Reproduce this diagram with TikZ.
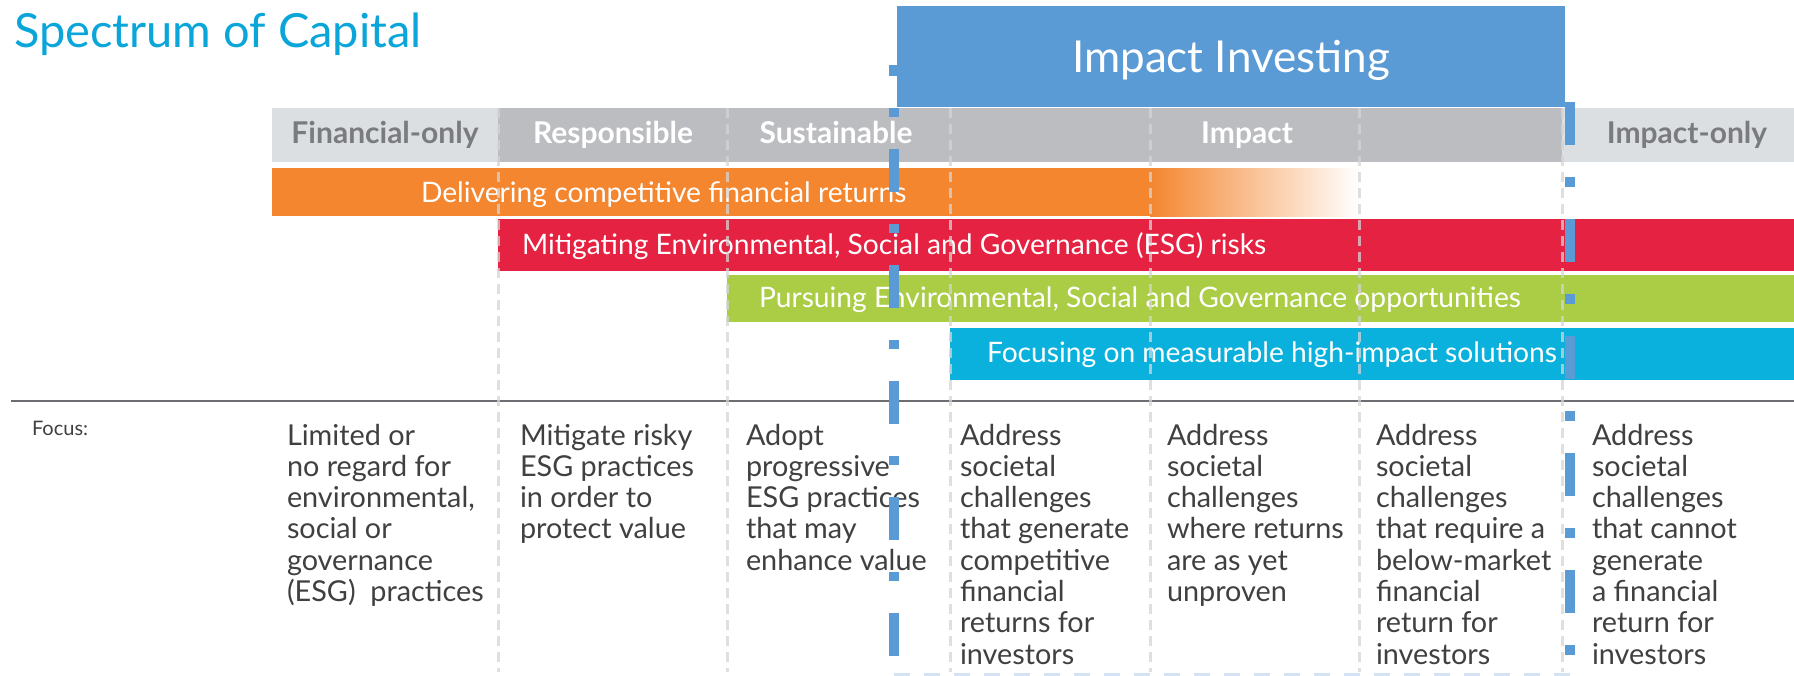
\documentclass[tikz,border=0pt]{standalone}
\usepackage{fontspec}
\setmainfont{Lato}
\definecolor{titlecyan}{HTML}{0AA5D9}
\definecolor{boxblue}{HTML}{5B9BD5}
\definecolor{barorange}{HTML}{F4862F}
\definecolor{barred}{HTML}{E52242}
\definecolor{bargreen}{HTML}{AACD45}
\definecolor{barcyan}{HTML}{09B1DC}
\definecolor{hdrdark}{HTML}{BCBDC0}
\definecolor{hdrlight}{HTML}{DCDFE2}
\definecolor{hdrtext}{HTML}{7A7B7E}
\definecolor{coltxt}{HTML}{404040}
\definecolor{sepgrey}{HTML}{D4D4D4}
\definecolor{rulegrey}{HTML}{6D6E71}
\definecolor{faintblue}{HTML}{D3E3F4}
\tikzset{
  hdrtxt/.style={anchor=base, font=\bfseries\fontsize{30}{34}\selectfont},
  bartxt/.style={anchor=base west, text=white, font=\fontsize{28.2}{32}\selectfont},
  coltext/.style={anchor=base west, text=coltxt, font=\fontsize{28.8}{31.3}\selectfont},
  sepline/.style={draw=sepgrey, line width=3pt, opacity=0.75, dash pattern=on 10pt off 6pt},
  bluedash/.style={draw=boxblue, line width=10pt, dash pattern=on 43pt off 32pt on 9pt off 32pt}
}
\begin{document}
\begin{tikzpicture}[x=1pt,y=-1pt, every node/.style={inner sep=0pt, outer sep=0pt}]
\useasboundingbox (0,0) rectangle (1794,675);
% title
\node[anchor=base west, text=titlecyan, font=\fontsize{47}{54}\selectfont] (title) at (14,47) {Spectrum of Capital};
% header row
\fill[hdrlight] (272,108) rectangle (498,162);
\fill[hdrdark] (498,108) rectangle (1562,162);
\fill[hdrlight] (1562,108) rectangle (1794,162);
\node[hdrtxt, text=hdrtext] (h1) at (385,143) {Financial-only};
\node[hdrtxt, text=white] (h2) at (613,143) {Responsible};
\node[hdrtxt, text=white] (h3) at (836,143) {Sustainable};
\node[hdrtxt, text=white] (h4) at (1247,143) {Impact};
\node[hdrtxt, text=hdrtext] (h5) at (1687,143) {Impact-only};
% bars
\fill[barorange] (272,168) rectangle (1150,216);
\shade[left color=barorange, right color=white] (1150,168) rectangle (1359,216);
\fill[barred] (498,219) rectangle (1794,271);
\fill[bargreen] (727,275) rectangle (1794,322);
\fill[barcyan] (950,328) rectangle (1794,380);
\node[bartxt] (b1) at (421,202) {Delivering competitive financial returns};
\node[bartxt] (b2) at (522,254) {Mitigating Environmental, Social and Governance (ESG) risks};
\node[bartxt] (b3) at (759,307) {Pursuing Environmental, Social and Governance opportunities};
\node[bartxt] (b4) at (987,362) {Focusing on measurable high-impact solutions};
% rule
\draw[rulegrey, line width=2pt] (11,401) -- (1794,401);
% separators
\foreach \xx in {498,727,950,1150,1359,1562}{
  \draw[sepline] (\xx,108) -- (\xx,672);
}
% focus label
\node[anchor=base west, text=coltxt, font=\fontsize{20}{23}\selectfont] (focus) at (32,435) {Focus:};
% columns
\node[coltext] (c1) at (287,445) {\begin{tabular}[t]{@{}l@{}}Limited or\\ no regard for\\ environmental,\\ social or\\ governance\\ (ESG)\ \ practices\end{tabular}};
\node[coltext] (c2) at (520,445) {\begin{tabular}[t]{@{}l@{}}Mitigate risky\\ ESG practices\\ in order to\\ protect value\end{tabular}};
\node[coltext] (c3) at (746,445) {\begin{tabular}[t]{@{}l@{}}Adopt\\ progressive\\ ESG practices\\ that may\\ enhance value\end{tabular}};
\node[coltext] (c4) at (960,445) {\begin{tabular}[t]{@{}l@{}}Address\\ societal\\ challenges\\ that generate\\ competitive\\ financial\\ returns for\\ investors\end{tabular}};
\node[coltext] (c5) at (1167,445) {\begin{tabular}[t]{@{}l@{}}Address\\ societal\\ challenges\\ where returns\\ are as yet\\ unproven\end{tabular}};
\node[coltext] (c6) at (1376,445) {\begin{tabular}[t]{@{}l@{}}Address\\ societal\\ challenges\\ that require a\\ below-market\\ financial\\ return for\\ investors\end{tabular}};
\node[coltext] (c7) at (1592,445) {\begin{tabular}[t]{@{}l@{}}Address\\ societal\\ challenges\\ that cannot\\ generate\\ a financial\\ return for\\ investors\end{tabular}};
% blue dashed lines
\coordinate (lt) at (894,65);
\coordinate (lb) at (894,675);
\coordinate (rt) at (1570,102);
\coordinate (rb) at (1570,675);
\draw[bluedash, dash phase=32pt] (lt) -- (lb);
\draw[draw=boxblue, line width=10pt, dash pattern=on 43pt off 32pt on 10pt off 32pt] (rt) -- (rb);
\draw[faintblue, line width=3pt, dash pattern=on 16pt off 14pt] (894,674) -- (1570,674);
% impact investing box
\fill[boxblue] (897,6) rectangle (1565,107);
\node[anchor=base, text=white, font=\fontsize{44}{50}\selectfont] (ii) at (1231,72) {Impact Investing};
\end{tikzpicture}
\end{document}
